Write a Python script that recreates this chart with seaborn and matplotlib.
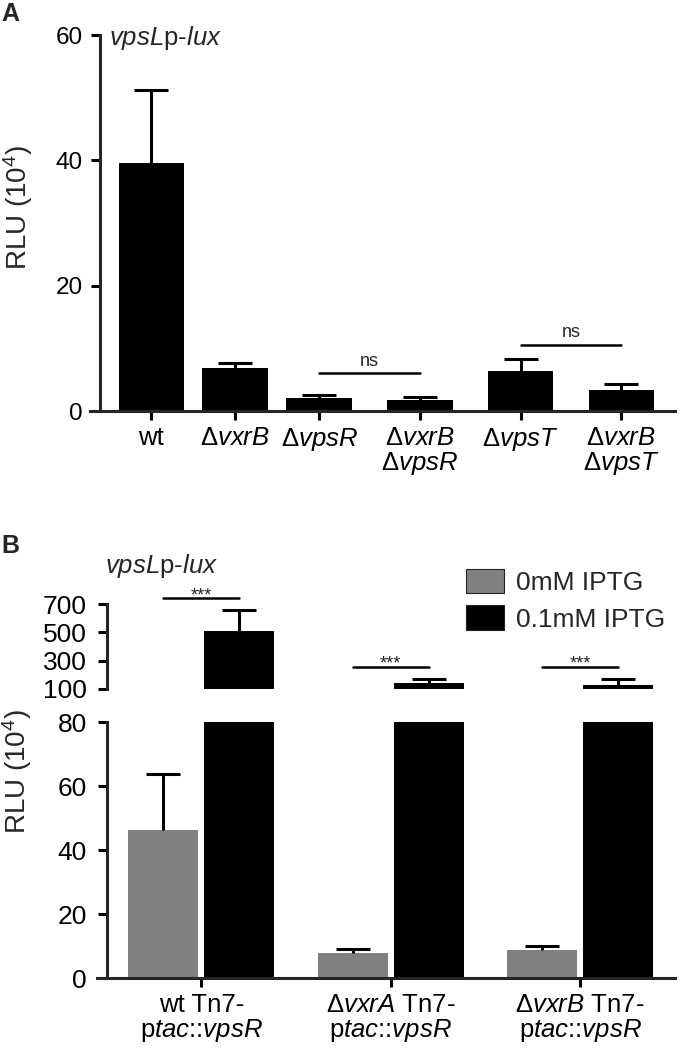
"""
vpsLp-lux reporter activity, panels A and B
"""
import numpy as np
import pandas as pd
import matplotlib
matplotlib.use("Agg")
import matplotlib.pyplot as plt
import seaborn as sns
from matplotlib.patches import Patch

# ---- panel A data ----
strains_a = ["wt", "ΔvxrB", "ΔvpsR", "ΔvxrB ΔvpsR", "ΔvpsT", "ΔvxrB ΔvpsT"]
labels_a = ["wt", "Δ$\\it{vxrB}$", "Δ$\\it{vpsR}$", "Δ$\\it{vxrB}$\nΔ$\\it{vpsR}$",
            "Δ$\\it{vpsT}$", "Δ$\\it{vxrB}$\nΔ$\\it{vpsT}$"]
rlu_a = [39.6, 6.9, 2.0, 1.7, 6.4, 3.3]
err_a = [11.6, 0.7, 0.6, 0.55, 1.9, 1.0]
ns_pairs_a = [(2, 3), (4, 5)]
ns_level_a = [6.0, 10.6]

# ---- panel B data ----
strains_b = ["wt", "ΔvxrA", "ΔvxrB"]
labels_b = ["wt Tn7-\np$\\it{tac}$::$\\it{vpsR}$",
            "Δ$\\it{vxrA}$ Tn7-\np$\\it{tac}$::$\\it{vpsR}$",
            "Δ$\\it{vxrB}$ Tn7-\np$\\it{tac}$::$\\it{vpsR}$"]
iptg_levels = ["0mM IPTG", "0.1mM IPTG"]
rlu_b_0 = [46.3, 7.8, 8.8]
err_b_0 = [17.4, 1.2, 1.2]
rlu_b_01 = [510, 140, 125]
err_b_01 = [150, 30, 45]
sig_level_b = [739, 254, 254]

# layout only (bar slots in panel A are not evenly spaced)
xpos_a = [0, 1, 2, 3.2, 4.4, 5.6]
colors_b = ["#808080", "black"]

sns.set_style("ticks")
plt.rcParams["font.family"] = ["Liberation Sans", "DejaVu Sans"]
plt.rcParams["mathtext.fontset"] = "custom"
plt.rcParams["mathtext.rm"] = "Liberation Sans"
plt.rcParams["mathtext.it"] = "Liberation Sans:italic"
plt.rcParams["mathtext.bf"] = "Liberation Sans:bold"

LW = 2.2


def style_axis(ax, ysize, ypad):
    sns.despine(ax=ax)
    for s in ("left", "bottom"):
        ax.spines[s].set_linewidth(LW)
    ax.spines["left"].set_position(("axes", 0.017))
    ax.tick_params(direction="out", length=6.5, width=LW, colors="black")
    ax.tick_params(axis="y", labelsize=ysize, pad=ypad)
    ax.tick_params(axis="x", labelsize=18.5, pad=4)


def up_errorbars(ax, x, y, err, capsize):
    # one-sided (upper) error bars, drop the lower cap
    _, caps, _ = ax.errorbar(x, y, yerr=[np.zeros(len(y)), err], fmt="none",
                             ecolor="black", elinewidth=LW, capsize=capsize, capthick=LW)
    caps[0].set_visible(False)


W, H = 680, 1063
fig = plt.figure(figsize=(W / 100, H / 100), dpi=100)

# ---------------- panel A ----------------
ax_a = fig.add_axes([90 / W, 1 - 411 / H, 585 / W, 376 / H])
df_a = pd.DataFrame({"pos": xpos_a, "strain": strains_a, "rlu": rlu_a, "err": err_a})
sns.barplot(data=df_a, x="pos", y="rlu", native_scale=True, color="black",
            width=0.78, errorbar=None, linewidth=0, ax=ax_a)
up_errorbars(ax_a, df_a["pos"], df_a["rlu"], df_a["err"], 12)
ax_a.set_xlim(-0.73, 6.24)
ax_a.set_ylim(0, 60)
ax_a.set_yticks([0, 20, 40, 60])
ax_a.set_xticks(xpos_a)
ax_a.set_xticklabels(labels_a, linespacing=1.0)
ax_a.set_xlabel("")
ax_a.set_ylabel("")
style_axis(ax_a, 17.5, 6)

for (i, j), lev in zip(ns_pairs_a, ns_level_a):
    ax_a.plot([xpos_a[i], xpos_a[j]], [lev, lev], color="black", lw=1.8)
    ax_a.text((xpos_a[i] + xpos_a[j]) / 2, lev + 0.6, "ns", ha="center", va="bottom", fontsize=13)

# ---------------- panel B ----------------
ax_hi = fig.add_axes([97 / W, 1 - 689 / H, 578 / W, 85 / H])
ax_lo = fig.add_axes([97 / W, 1 - 978 / H, 578 / W, 256 / H])
df_b = pd.DataFrame({
    "strain": strains_b * 2,
    "iptg": [iptg_levels[0]] * 3 + [iptg_levels[1]] * 3,
    "rlu": rlu_b_0 + rlu_b_01,
    "err": err_b_0 + err_b_01,
})

centers = {}
for ax in (ax_hi, ax_lo):
    sns.barplot(data=df_b, x="strain", y="rlu", hue="iptg", hue_order=iptg_levels,
                palette=colors_b, width=0.8, gap=0.08, errorbar=None,
                linewidth=0, legend=False, ax=ax)
    for cont, level in zip(ax.containers, iptg_levels):
        sub = df_b[df_b["iptg"] == level]
        cx = [b.get_x() + b.get_width() / 2 for b in cont]
        centers[level] = cx
        up_errorbars(ax, cx, sub["rlu"].values, sub["err"].values, 12.5)
    ax.set_xlim(-0.55, 2.5)
    ax.set_xlabel("")
    ax.set_ylabel("")
    style_axis(ax, 19, 8)

ax_hi.set_ylim(100, 700)
ax_hi.set_yticks([100, 300, 500, 700])
ax_hi.spines["bottom"].set_visible(False)
ax_hi.tick_params(axis="x", bottom=False, labelbottom=False)

ax_lo.set_ylim(0, 80)
ax_lo.set_yticks([0, 20, 40, 60, 80])
ax_lo.set_xticks(range(len(strains_b)))
ax_lo.set_xticklabels(labels_b, linespacing=1.0)

for k, lev in enumerate(sig_level_b):
    x0, x1 = centers[iptg_levels[0]][k], centers[iptg_levels[1]][k]
    ax_hi.plot([x0, x1], [lev, lev], color="black", lw=1.8, clip_on=False)
    # asterisks sit high in their text box, so the box may start below the line
    ax_hi.text((x0 + x1) / 2, lev - 40, "***", ha="center", va="bottom",
               fontsize=13, clip_on=False)

handles = [Patch(facecolor=c, edgecolor="#222222", linewidth=0.8) for c in colors_b]
fig.legend(handles=handles, labels=iptg_levels, loc="upper left",
           bbox_to_anchor=(466 / W, 1 - 569 / H), frameon=False, fontsize=19,
           handlelength=1.45, handleheight=1.05, handletextpad=0.45,
           labelspacing=0.38, borderpad=0, borderaxespad=0)

# ---------------- texts ----------------
fig.text(1 / W, 1 - 14 / H, "A", fontsize=18, fontweight="bold", va="center", ha="left")
fig.text(1 / W, 1 - 546 / H, "B", fontsize=18, fontweight="bold", va="center", ha="left")
fig.text(109 / W, 1 - 38 / H, "$\\it{vpsL}$p-$\\it{lux}$", fontsize=18.5, va="center", ha="left")
fig.text(105 / W, 1 - 566 / H, "$\\it{vpsL}$p-$\\it{lux}$", fontsize=18.5, va="center", ha="left")
fig.text(18 / W, 1 - 208 / H, "RLU (10$^4$)", fontsize=20, rotation=90, va="center", ha="center")
fig.text(17 / W, 1 - 772 / H, "RLU (10$^4$)", fontsize=20, rotation=90, va="center", ha="center")

fig.savefig("out.png", dpi=100)
plt.close(fig)
